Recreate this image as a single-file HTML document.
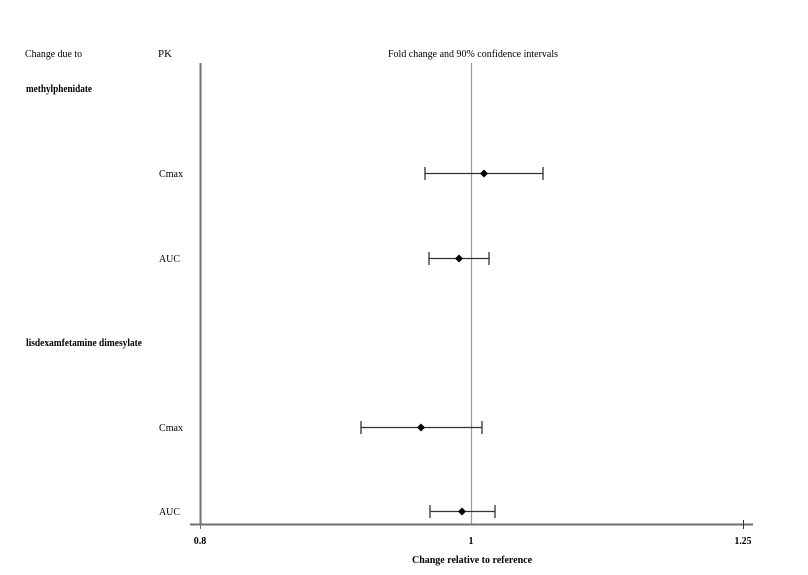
<!DOCTYPE html>
<html><head><meta charset="utf-8"><style>
html,body{margin:0;padding:0;background:#fff;}
svg{display:block;}
text{font-family:"Liberation Serif",serif;font-size:10px;fill:#000;}
.b{font-weight:bold;}
</style></head><body>
<svg width="808" height="575" viewBox="0 0 808 575" xmlns="http://www.w3.org/2000/svg">
<rect width="808" height="575" fill="#fff"/>
<!-- headers -->
<text x="25" y="57" textLength="57" lengthAdjust="spacingAndGlyphs">Change due to</text>
<text x="158" y="57" textLength="14" lengthAdjust="spacingAndGlyphs">PK</text>
<text x="388" y="57" textLength="170" lengthAdjust="spacingAndGlyphs">Fold change and 90% confidence intervals</text>
<text class="b" x="26" y="92" textLength="66" lengthAdjust="spacingAndGlyphs">methylphenidate</text>
<text class="b" x="26" y="346" textLength="116" lengthAdjust="spacingAndGlyphs">lisdexamfetamine dimesylate</text>
<text x="159" y="177" textLength="24" lengthAdjust="spacingAndGlyphs">Cmax</text>
<text x="159" y="262" textLength="21" lengthAdjust="spacingAndGlyphs">AUC</text>
<text x="159" y="431" textLength="24" lengthAdjust="spacingAndGlyphs">Cmax</text>
<text x="159" y="515" textLength="21" lengthAdjust="spacingAndGlyphs">AUC</text>
<!-- axes -->
<line x1="200.5" y1="63" x2="200.5" y2="525" stroke="#707070" stroke-width="2"/>
<line x1="471.5" y1="63" x2="471.5" y2="524" stroke="#999" stroke-width="1.2"/>
<line x1="190" y1="524.5" x2="753" y2="524.5" stroke="#707070" stroke-width="2"/>
<line x1="200.5" y1="524" x2="200.5" y2="529" stroke="#707070" stroke-width="1"/>
<line x1="743.5" y1="520" x2="743.5" y2="529" stroke="#333" stroke-width="1"/>
<text class="b" x="200" y="544" text-anchor="middle">0.8</text>
<text class="b" x="471" y="544" text-anchor="middle">1</text>
<text class="b" x="743" y="544" text-anchor="middle" textLength="17" lengthAdjust="spacingAndGlyphs">1.25</text>
<text class="b" x="412" y="563" textLength="120" lengthAdjust="spacingAndGlyphs">Change relative to reference</text>
<!-- series -->
<g stroke="#333" stroke-width="1.3" fill="none">
<line x1="425" y1="173.5" x2="543" y2="173.5"/>
<line x1="425" y1="167" x2="425" y2="180"/>
<line x1="543" y1="167" x2="543" y2="180"/>
<line x1="429" y1="258.5" x2="489" y2="258.5"/>
<line x1="429" y1="252" x2="429" y2="265"/>
<line x1="489" y1="252" x2="489" y2="265"/>
<line x1="361" y1="427.5" x2="482" y2="427.5"/>
<line x1="361" y1="421" x2="361" y2="434"/>
<line x1="482" y1="421" x2="482" y2="434"/>
<line x1="430" y1="511.5" x2="495" y2="511.5"/>
<line x1="430" y1="505" x2="430" y2="518"/>
<line x1="495" y1="505" x2="495" y2="518"/>
</g>
<g fill="#000">
<polygon points="484,169.5 488,173.5 484,177.5 480,173.5"/>
<polygon points="459,254.5 463,258.5 459,262.5 455,258.5"/>
<polygon points="421,423.5 425,427.5 421,431.5 417,427.5"/>
<polygon points="462,507.5 466,511.5 462,515.5 458,511.5"/>
</g>
</svg>
</body></html>
